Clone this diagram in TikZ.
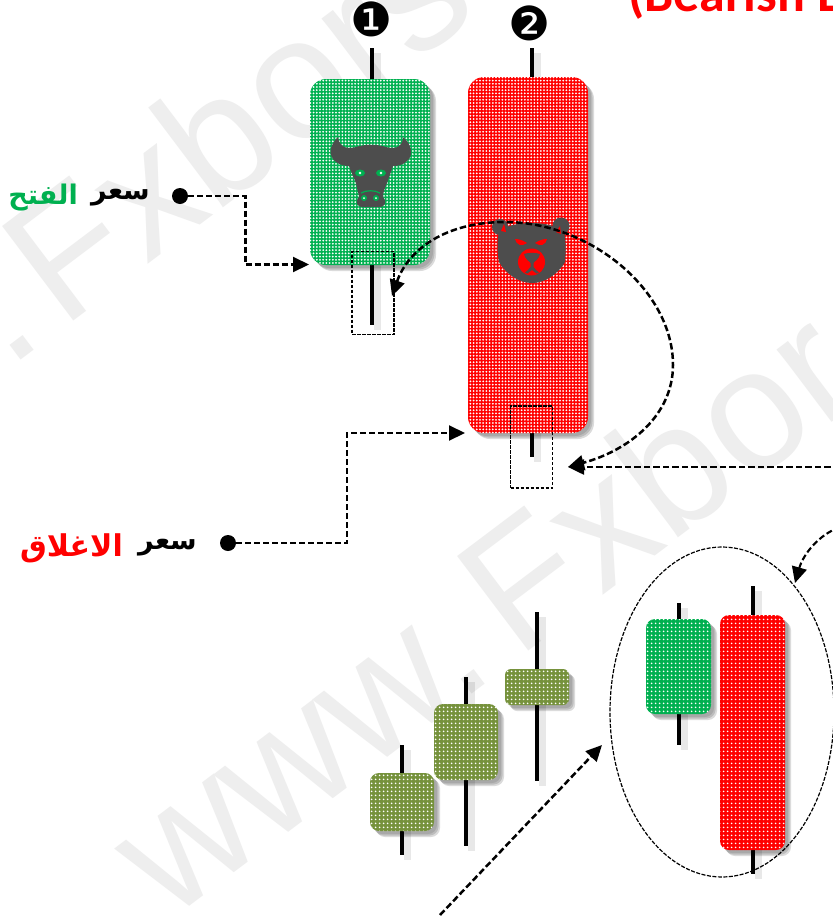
\documentclass[tikz,border=0pt]{standalone}
\usepackage{fontspec}
\usetikzlibrary{arrows.meta,patterns.meta,shapes.geometric}
\setmainfont{Liberation Sans}
\newfontfamily\arabicfont[Script=Arabic]{DejaVu Sans}
\newfontfamily\symfont{DejaVu Sans}
\newfontfamily\titlefont{Carlito}
\TeXXeTstate=1
\definecolor{bullgreen}{HTML}{00B050}
\definecolor{bearred}{HTML}{FF0000}
\definecolor{olivec}{HTML}{76923C}
\definecolor{icongray}{HTML}{4D4D4D}
\definecolor{wmark}{HTML}{EEEEEE}
\tikzset{
  softshadow/.style={
    preaction={draw=none,fill=black,fill opacity=.10,transform canvas={shift={(3pt,-3pt)}}},
    preaction={draw=none,fill=black,fill opacity=.14,transform canvas={shift={(4.5pt,-4.5pt)}}},
    preaction={draw=none,fill=black,fill opacity=.14,transform canvas={shift={(6pt,-6pt)}}}},
  wickline/.style={line width=4.5pt,black},
  wickshadow/.style={line width=7pt,black,opacity=.09,transform canvas={shift={(5pt,-5pt)}}},
  bigdots/.style={postaction={pattern={Dots[distance=3.2pt,radius=1pt]},pattern color=white}},
  smalldots/.style={postaction={pattern={Dots[distance=4pt,radius=1.1pt]},pattern color=white}},
  arrowtip/.style={-{Stealth[length=16pt,width=15pt,inset=0pt]}},
  dashedlink/.style={line width=2.1pt,black,dash pattern=on 6pt off 3pt,arrowtip},
  heavylink/.style={line width=2.5pt,black,dash pattern=on 6.5pt off 3pt,arrowtip},
  zonebox/.style={rectangle,draw=black,line width=1.3pt,dash pattern=on 3.5pt off 1.5pt,inner sep=0pt,fill=none},
  labeldot/.style={circle,fill=black,inner sep=0pt,minimum size=16pt},
  zoneellipse/.style={ellipse,draw=black,line width=1.2pt,dash pattern=on 4pt off 1.5pt,inner sep=0pt},
  arlabel/.style={inner sep=0pt,anchor=east,font=\arabicfont\bfseries\fontsize{27}{32}\selectfont},
  arword/.style={inner sep=0pt,anchor=east,font=\arabicfont\bfseries\fontsize{30}{36}\selectfont},
  numlabel/.style={inner sep=0pt,font=\symfont\fontsize{47}{50}\selectfont},
  wmtext/.style={inner sep=0pt,text=wmark,rotate=37,anchor=base west,font=\fontsize{172}{180}\selectfont},
  titletext/.style={inner sep=0pt,anchor=base west,text=bearred,font=\titlefont\bfseries\fontsize{52}{58}\selectfont},
}
\newcommand{\candlewick}[4]{%
  \coordinate (#1t) at (#2,#3); \coordinate (#1b) at (#2,#4);
  \draw[wickshadow] (#1t) -- (#1b);
  \draw[wickline] (#1t) -- (#1b);}
% name, x1, y1, x2, y2, colour, radius (number), dots style
\newcommand{\candlebody}[8]{%
  \path[softshadow,fill=#6,#8]
    ({#2+#7},#3) -- ({#4-#7},#3)
    .. controls ({#4-.45*#7},#3) and (#4,{#3+.45*#7}) .. (#4,{#3+#7})
    -- (#4,{#5-#7})
    .. controls (#4,{#5-.45*#7}) and ({#4-.45*#7},#5) .. ({#4-#7},#5)
    -- ({#2+#7},#5)
    .. controls ({#2+.45*#7},#5) and (#2,{#5-.45*#7}) .. (#2,{#5-#7})
    -- (#2,{#3+#7})
    .. controls (#2,{#3+.45*#7}) and ({#2+.45*#7},#3) .. ({#2+#7},#3) -- cycle;
  \node[rectangle,inner sep=0pt,outer sep=0pt,minimum width={(#4-#2)*1pt},minimum height={(#5-#3)*1pt}]
    (#1) at ({(#2+#4)/2},{(#3+#5)/2}) {};}
\begin{document}
\begin{tikzpicture}[x=1pt,y=-1pt]
\useasboundingbox (0,0) rectangle (833,919);
\clip (0,0) rectangle (833,919);
\fill[white] (0,0) rectangle (833,919);
% watermark
\node[wmtext] (wm1) at (8,370) {.\kern20pt Fxbors};
\node[wmtext] (wm2) at (169,922) {www.\kern25pt Fxbor};
% title
\node[titletext] (title) at (628,11) {(Bearish E};
% numbers
\node[numlabel] (n1) at (372,19) {❶};
\node[numlabel] (n2) at (530,23) {❷};
% large candles
\candlewick{g}{372}{48}{325}
\candlebody{gbody}{310}{79}{430}{265}{bullgreen}{16}{bigdots}
\candlewick{r}{532}{48}{457}
\candlebody{rbody}{468}{77}{588}{433}{bearred}{16}{bigdots}
% bull
\fill[icongray] (338,137) .. controls (329,146) and (328,156) .. (336,162)
  .. controls (340,165) and (345,166) .. (349,166)
  .. controls (351,172) and (354,178) .. (356,183)
  .. controls (357,190) and (359,194) .. (359,197)
  .. controls (355,201) and (356,207) .. (363,207) -- (379,207)
  .. controls (386,207) and (387,201) .. (383,197)
  .. controls (383,192) and (385,188) .. (387,183)
  .. controls (389,177) and (391,172) .. (393,166)
  .. controls (398,166) and (403,165) .. (407,161)
  .. controls (414,155) and (412,145) .. (403,137)
  .. controls (403,146) and (396,150) .. (386,147)
  .. controls (376,144) and (366,144) .. (356,147)
  .. controls (346,150) and (339,146) .. (338,137) -- cycle;
\fill[bullgreen] (360,173) ellipse (5pt and 3.5pt) (381,173) ellipse (5pt and 3.5pt)
  (364,198) ellipse (3pt and 3pt) (376,198) ellipse (3pt and 3pt);
\fill[white] (360,173) circle (1.3pt) (381,173) circle (1.3pt) (364,198) circle (1pt) (376,198) circle (1pt);
\draw[bullgreen,line width=1.2pt] (361,193) .. controls (366,190) and (375,190) .. (380,193);
% bear
\fill[icongray] (500,227) circle (8pt) (561,226) circle (8.5pt);
\fill[icongray] (499,232) .. controls (510,220) and (552,220) .. (564,232)
  .. controls (566,240) and (566,252) .. (565,262)
  .. controls (558,274) and (545,283) .. (532,283)
  .. controls (519,283) and (506,274) .. (499,262)
  .. controls (497,252) and (497,240) .. (499,232) -- cycle;
\fill[bearred] (501,231) -- (504,224) -- (506,232) -- cycle
  (556,232) -- (560,226) -- (561,234) -- cycle;
\fill[bearred] (515,239) .. controls (520,239) and (524,241) .. (527,243) .. controls (522,247) and (516,245) .. (515,239) -- cycle
  (547,239) .. controls (542,239) and (538,241) .. (535,243) .. controls (540,247) and (546,245) .. (547,239) -- cycle;
\fill[bearred] (531.5,262) circle (13.5pt);
\fill[icongray] (524,254) .. controls (528,252.5) and (536,252.5) .. (540,254)
  .. controls (539,259) and (535,261) .. (533.5,263) -- (533.5,267)
  .. controls (535,269) and (537,271) .. (539,272.5) -- (536.5,273.5) -- (532,270) -- (527.5,273.5) -- (525,272.5)
  .. controls (527,271) and (529,269) .. (530.5,267) -- (530.5,263)
  .. controls (529,261) and (525,259) .. (524,254) -- cycle;
% small candles
\candlewick{oa}{402}{745}{855}
\candlebody{oabody}{370}{773}{434}{831}{olivec}{9}{smalldots}
\candlewick{ob}{466}{677}{846}
\candlebody{obbody}{434}{704}{498}{780}{olivec}{9}{smalldots}
\candlewick{oc}{537}{612}{781}
\candlebody{ocbody}{505}{669}{569}{705}{olivec}{6}{smalldots}
\candlewick{sg}{679}{603}{745}
\candlebody{sgbody}{646}{619}{711}{714}{bullgreen}{9}{smalldots}
\candlewick{sr}{753}{586}{874}
\candlebody{srbody}{720}{615}{785}{850}{bearred}{9}{smalldots}
% zones
\node[zonebox,minimum width=42pt,minimum height=83pt] (za) at (373,293) {};
\node[zonebox,minimum width=42pt,minimum height=82pt] (zb) at (531.5,447) {};
\node[zoneellipse,minimum width=224pt,minimum height=330pt] (ze) at (722,712) {};
% labels
\node[arlabel] (la) at (150,198) {\beginR سعر\endR};
\node[arlabel,text=bullgreen] (lc) at (78,198) {\beginR الفتح\endR};
\node[arlabel] (lb) at (197,548) {\beginR سعر\endR};
\node[arword,text=bearred] (ld) at (123,548) {\beginR الاغلاق\endR};
\node[labeldot] (da) at (180,196) {};
\node[labeldot] (db) at (228,543) {};
% connectors
\coordinate (ca) at (245.5,196);
\coordinate (cb) at (347,543);
\coordinate (ta) at (309,264.5);
\coordinate (tb) at (465,433);
\coordinate (tc) at (568,467);
\coordinate (sc) at (840,467);
\coordinate (td) at (392,296);
\coordinate (te) at (795,583);
\coordinate (se) at (840,527);
\coordinate (tf) at (602,745);
\coordinate (sf) at (440,915);
\draw[dashedlink] (da.east) -- (ca) |- (ta);
\draw[dashedlink] (db.east) -- (cb) |- (tb);
\draw[heavylink] (sc) -- (tc);
\draw[heavylink,{Stealth[length=16pt,width=15pt,inset=0pt]}-{Stealth[length=16pt,width=15pt,inset=0pt]}]
  (td) .. controls (408,250) and (445,222) .. (505,222)
  .. controls (590,222) and (673,290) .. (673,365)
  .. controls (673,415) and (630,450) .. (tc);
\draw[dashedlink] (se) .. controls (818,535) and (803,555) .. (te);
\draw[heavylink] (sf) -- (tf);
\end{tikzpicture}
\end{document}
